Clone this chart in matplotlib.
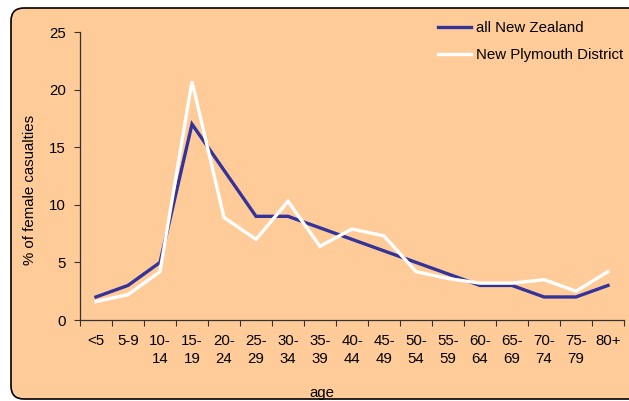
import matplotlib
matplotlib.use("Agg")
import matplotlib.pyplot as plt
from matplotlib.patches import FancyBboxPatch

plt.rcParams['font.family'] = ['Liberation Sans', 'DejaVu Sans']

age_groups = ["<5", "5-9", "10-\n14", "15-\n19", "20-\n24", "25-\n29", "30-\n34",
              "35-\n39", "40-\n44", "45-\n49", "50-\n54", "55-\n59", "60-\n64",
              "65-\n69", "70-\n74", "75-\n79", "80+"]
all_nz = [2, 3, 5, 17, 13, 9, 9, 8, 7, 6, 5, 4, 3, 3, 2, 2, 3]
new_plymouth = [1.6, 2.2, 4.2, 20.7, 8.9, 7.0, 10.3, 6.4, 7.9, 7.3, 4.2, 3.6, 3.2,
                3.2, 3.5, 2.5, 4.2]
y_ticks = [0, 5, 10, 15, 20, 25]

W, H = 629, 401
FS = 10.8
fig = plt.figure(figsize=(W / 100, H / 100), dpi=100)
fig.patch.set_facecolor("white")

# Rounded orange panel behind the chart
bg = fig.add_axes([0, 0, 1, 1], zorder=0)
bg.set_xlim(0, W)
bg.set_ylim(0, H)
bg.axis("off")
bg.add_patch(FancyBboxPatch((11, 2), 660, 391,
                            boxstyle="round,pad=0,rounding_size=13",
                            facecolor="#FFCC99", edgecolor="black", linewidth=1.2))

left, right, top, bottom = 80, 624, 32, 320
ax = fig.add_axes([left / W, 1 - bottom / H, (right - left) / W, (bottom - top) / H], zorder=1)
ax.patch.set_alpha(0)

x = list(range(len(age_groups)))
ax.plot(x, all_nz, color="#333399", linewidth=2.4, label="all New Zealand", solid_joinstyle="miter")
ax.plot(x, new_plymouth, color="white", linewidth=2.4, label="New Plymouth District", solid_joinstyle="miter")

ax.set_xlim(-0.5, len(age_groups) - 0.5)
ax.set_ylim(0, 25)
ax.set_yticks(y_ticks)
ax.set_xticks(x)
ax.set_xticks([i - 0.5 for i in range(len(age_groups) + 1)], minor=True)
ax.set_xticklabels(age_groups, fontsize=FS, linespacing=1.35)
ax.tick_params(axis="x", which="major", length=0, pad=10)
ax.tick_params(axis="x", which="minor", length=4, width=0.8, color="#333333")
ax.tick_params(axis="y", length=4, width=0.8, color="#333333", labelsize=FS, pad=6)
for s in ["top", "right"]:
    ax.spines[s].set_visible(False)
for s in ["left", "bottom"]:
    ax.spines[s].set_color("#333333")
    ax.spines[s].set_linewidth(0.9)

fig.text(322 / W, 1 - 393 / H, "age", fontsize=FS, ha="center", va="center")
fig.text(30 / W, 1 - 190 / H, "% of female casualties", fontsize=FS, rotation=90,
         ha="center", va="center")

leg = ax.legend(loc="upper left", bbox_to_anchor=(438 / W, 1 - 21 / H),
                bbox_transform=fig.transFigure, frameon=False, fontsize=FS,
                handlelength=2.2, handletextpad=0.3, labelspacing=0.85,
                borderpad=0, borderaxespad=0)
for line in leg.get_lines():
    line.set_linewidth(2.4)

fig.savefig("out.png", dpi=100, facecolor="white")
